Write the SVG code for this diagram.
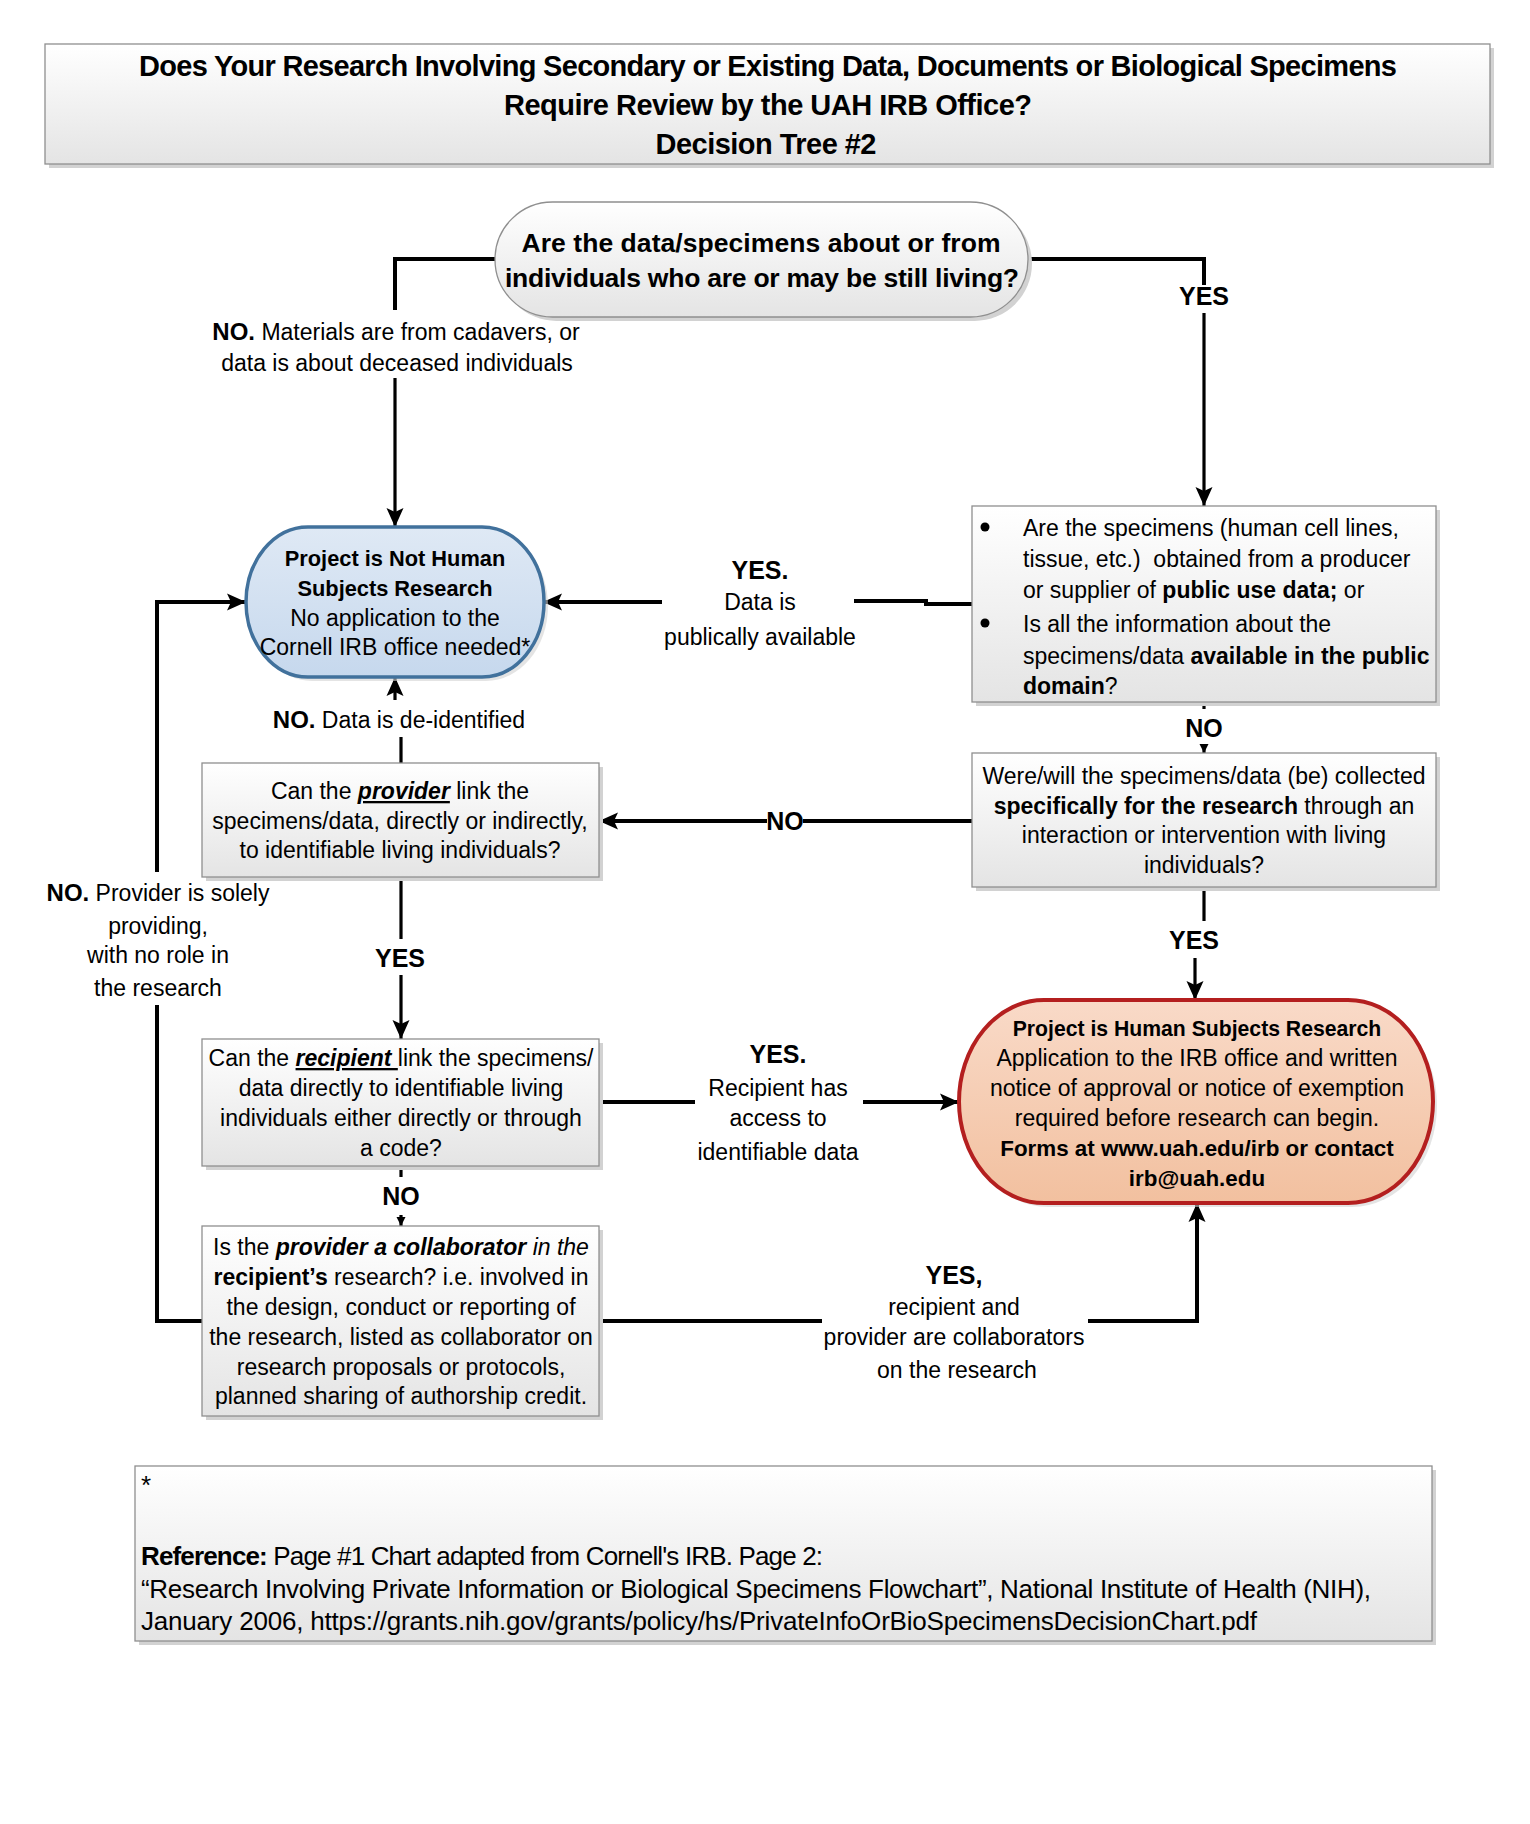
<svg xmlns="http://www.w3.org/2000/svg" width="1530" height="1824" viewBox="0 0 1530 1824">
<defs>
<linearGradient id="gGray" x1="0" y1="0" x2="0" y2="1"><stop offset="0" stop-color="#ffffff"/><stop offset="1" stop-color="#e4e4e4"/></linearGradient>
<linearGradient id="gBlue" x1="0" y1="0" x2="0" y2="1"><stop offset="0" stop-color="#dfe9f5"/><stop offset="1" stop-color="#c6d8ed"/></linearGradient>
<linearGradient id="gPeach" x1="0" y1="0" x2="0" y2="1"><stop offset="0" stop-color="#f9dac8"/><stop offset="1" stop-color="#f2c09f"/></linearGradient>
<marker id="arr" markerUnits="userSpaceOnUse" markerWidth="20" markerHeight="20" viewBox="0 0 20 20" refX="19" refY="10" orient="auto"><path d="M0,1.5 L19,10 L0,18.5 L4,10 z" fill="#000"/></marker>
<marker id="arrs" markerUnits="userSpaceOnUse" markerWidth="10" markerHeight="10" viewBox="0 0 10 10" refX="9" refY="5" orient="auto"><path d="M0,0.5 L9,5 L0,9.5 z" fill="#000"/></marker>
</defs>
<style>
text{font-family:"Liberation Sans",Arial,sans-serif;fill:#000;font-size:23px}
.c{text-anchor:middle}
.b{font-weight:bold}
.i{font-style:italic}
.u{text-decoration:underline}
.lbl{font-weight:bold;font-size:25px}
.no{font-weight:bold;font-size:24px}
.shadow{fill:#d2d2d2}
.box{fill:url(#gGray);stroke:#8f8f8f;stroke-width:1.3}
.ln{fill:none;stroke:#000;stroke-width:4}
.ln3{fill:none;stroke:#000;stroke-width:3.2}
.ttl{font-weight:bold;font-size:29px;text-anchor:middle}
.dq{font-weight:bold;font-size:26.5px;text-anchor:middle}
.nh{font-weight:bold;font-size:21.8px}
.hs1{font-weight:bold;font-size:21.2px}
.hs2{font-weight:bold;font-size:22.4px}
.ft{font-size:26px}
</style>
<rect width="1530" height="1824" fill="#fff"/>

<g id="title">
<rect class="shadow" x="49" y="48" width="1445" height="120"/>
<rect class="box" x="45" y="44" width="1445" height="120" stroke="#9a9a9a"/>
<text class="ttl" x="768" y="76" textLength="1258" lengthAdjust="spacing">Does Your Research Involving Secondary or Existing Data, Documents or Biological Specimens</text>
<text class="ttl" x="768" y="115" textLength="528" lengthAdjust="spacing">Require Review by the UAH IRB Office?</text>
<text class="ttl" x="766" y="154" textLength="221" lengthAdjust="spacing">Decision Tree #2</text>
</g>

<g id="connectors">
<path class="ln" d="M495,259 H395 V310"/>
<path class="ln3" d="M395,378 V527" marker-end="url(#arr)"/>
<path class="ln" d="M1028,259 H1204 V285"/>
<path class="ln3" d="M1204,313 V506" marker-end="url(#arr)"/>
<path class="ln" d="M972,604 H926 V601 H854"/>
<path class="ln" d="M662,602 H543" marker-end="url(#arr)"/>
<path class="ln3" d="M1204,702 V709"/>
<path class="ln3" d="M1204,745 V753" marker-end="url(#arrs)"/>
<path class="ln" d="M972,821 H803"/>
<path class="ln" d="M767,821 H599" marker-end="url(#arr)"/>
<path class="ln3" d="M1204,887 V921"/>
<path class="ln3" d="M1195,958 V1000" marker-end="url(#arr)"/>
<path class="ln3" d="M401,763 V737"/>
<path class="ln3" d="M395,700 V677" marker-end="url(#arr)"/>
<path class="ln3" d="M401,877 V939"/>
<path class="ln3" d="M401,975 V1039" marker-end="url(#arr)"/>
<path class="ln" d="M599,1102 H695"/>
<path class="ln" d="M863,1102 H959" marker-end="url(#arr)"/>
<path class="ln3" d="M401,1166 V1177"/>
<path class="ln3" d="M401,1215 V1226" marker-end="url(#arrs)"/>
<path class="ln" d="M599,1321 H822"/>
<path class="ln" d="M1088,1321 H1197 V1203" marker-end="url(#arr)"/>
<path class="ln" d="M202,1321 H157 V1005"/>
<path class="ln" d="M157,872 V602 H246" marker-end="url(#arr)"/>
</g>

<g id="connector-labels">
<text class="c" x="396" y="340"><tspan class="no">NO.</tspan> Materials are from cadavers, or</text>
<text class="c" x="397" y="371">data is about deceased individuals</text>
<text class="c lbl" x="1204" y="305">YES</text>
<text class="c lbl" x="760" y="579">YES.</text>
<text class="c" x="760" y="610">Data is</text>
<text class="c" x="760" y="645">publically available</text>
<text class="c lbl" x="1204" y="737">NO</text>
<text class="c lbl" x="785" y="830">NO</text>
<text class="c lbl" x="1194" y="949">YES</text>
<text class="c" x="399" y="728"><tspan class="no">NO.</tspan> Data is de-identified</text>
<text class="c lbl" x="400" y="967">YES</text>
<text class="c lbl" x="778" y="1063">YES.</text>
<text class="c" x="778" y="1096">Recipient has</text>
<text class="c" x="778" y="1126">access to</text>
<text class="c" x="778" y="1160">identifiable data</text>
<text class="c lbl" x="401" y="1205">NO</text>
<text class="c lbl" x="954" y="1284">YES,</text>
<text class="c" x="954" y="1315">recipient and</text>
<text class="c" x="954" y="1345">provider are collaborators</text>
<text class="c" x="957" y="1378">on the research</text>
<text class="c" x="158" y="901"><tspan class="no">NO.</tspan> Provider is solely</text>
<text class="c" x="158" y="934">providing,</text>
<text class="c" x="158" y="963">with no role in</text>
<text class="c" x="158" y="996">the research</text>
</g>

<g id="q-living">
<rect class="shadow" x="499" y="206" width="533" height="115" rx="57.5"/>
<rect class="box" x="495" y="202" width="533" height="115" rx="57.5" stroke="#7f7f7f"/>
<text class="dq" x="761" y="252" textLength="479" lengthAdjust="spacing">Are the data/specimens about or from</text>
<text class="dq" x="762" y="287" textLength="514" lengthAdjust="spacing">individuals who are or may be still living?</text>
</g>

<g id="not-human">
<rect class="shadow" x="250" y="531" width="298" height="150" rx="62" ry="75" opacity="0.6"/>
<rect x="246" y="527" width="298" height="150" rx="62" ry="75" fill="url(#gBlue)" stroke="#41719c" stroke-width="3.5"/>
<text class="c nh" x="395" y="566">Project is Not Human</text>
<text class="c nh" x="395" y="596">Subjects Research</text>
<text class="c" x="395" y="626">No application to the</text>
<text class="c" x="395" y="655">Cornell IRB office needed*</text>
</g>

<g id="q-public">
<rect class="shadow" x="976" y="510" width="464" height="196"/>
<rect class="box" x="972" y="506" width="464" height="196"/>
<circle cx="985" cy="527" r="4.5" fill="#000"/>
<circle cx="985" cy="623" r="4.5" fill="#000"/>
<text x="1023" y="536">Are the specimens (human cell lines,</text>
<text x="1023" y="567" xml:space="preserve">tissue, etc.)  obtained from a producer</text>
<text x="1023" y="598">or supplier of <tspan class="b">public use data;</tspan> or</text>
<text x="1023" y="632">Is all the information about the</text>
<text x="1023" y="664">specimens/data <tspan class="b">available in the public</tspan></text>
<text x="1023" y="694"><tspan class="b">domain</tspan>?</text>
</g>

<g id="q-collected">
<rect class="shadow" x="976" y="757" width="464" height="134"/>
<rect class="box" x="972" y="753" width="464" height="134"/>
<text class="c" x="1204" y="784">Were/will the specimens/data (be) collected</text>
<text class="c" x="1204" y="814"><tspan class="b">specifically for the research</tspan> through an</text>
<text class="c" x="1204" y="843">interaction or intervention with living</text>
<text class="c" x="1204" y="873">individuals?</text>
</g>

<g id="q-provider">
<rect class="shadow" x="206" y="767" width="397" height="114"/>
<rect class="box" x="202" y="763" width="397" height="114"/>
<text class="c" x="400" y="799">Can the <tspan class="b i u">provider</tspan> link the</text>
<text class="c" x="400" y="829">specimens/data, directly or indirectly,</text>
<text class="c" x="400" y="858">to identifiable living individuals?</text>
</g>

<g id="q-recipient">
<rect class="shadow" x="206" y="1043" width="397" height="127"/>
<rect class="box" x="202" y="1039" width="397" height="127"/>
<text class="c" x="401" y="1066" xml:space="preserve">Can the <tspan class="b i u">recipient </tspan>link the specimens/</text>
<text class="c" x="401" y="1096">data directly to identifiable living</text>
<text class="c" x="401" y="1126">individuals either directly or through</text>
<text class="c" x="401" y="1156">a code?</text>
</g>

<g id="q-collaborator">
<rect class="shadow" x="206" y="1230" width="397" height="190"/>
<rect class="box" x="202" y="1226" width="397" height="190"/>
<text class="c" x="401" y="1255">Is the <tspan class="b i">provider a collaborator</tspan> <tspan class="i">in the</tspan></text>
<text class="c" x="401" y="1285"><tspan class="b">recipient’s</tspan> research? i.e. involved in</text>
<text class="c" x="401" y="1315">the design, conduct or reporting of</text>
<text class="c" x="401" y="1345">the research, listed as collaborator on</text>
<text class="c" x="401" y="1375">research proposals or protocols,</text>
<text class="c" x="401" y="1404">planned sharing of authorship credit.</text>
</g>

<g id="human">
<rect class="shadow" x="963" y="1004" width="474" height="203" rx="85" ry="101.5" opacity="0.6"/>
<rect x="959" y="1000" width="474" height="203" rx="85" ry="101.5" fill="url(#gPeach)" stroke="#b41f1f" stroke-width="4"/>
<text class="c hs1" x="1197" y="1036">Project is Human Subjects Research</text>
<text class="c" x="1197" y="1066">Application to the IRB office and written</text>
<text class="c" x="1197" y="1096">notice of approval or notice of exemption</text>
<text class="c" x="1197" y="1126">required before research can begin.</text>
<text class="c hs2" x="1197" y="1156">Forms at www.uah.edu/irb or contact</text>
<text class="c hs2" x="1197" y="1186">irb@uah.edu</text>
</g>

<g id="footnote">
<rect class="shadow" x="139" y="1470" width="1297" height="175"/>
<rect class="box" x="135" y="1466" width="1297" height="175" stroke="#9a9a9a"/>
<text class="ft" x="141" y="1494">*</text>
<text class="ft" x="141" y="1565" textLength="682" lengthAdjust="spacing"><tspan class="b">Reference:</tspan> Page #1 Chart adapted from Cornell's IRB. Page 2:</text>
<text class="ft" x="141" y="1598" textLength="1230" lengthAdjust="spacing">“Research Involving Private Information or Biological Specimens Flowchart”, National Institute of Health (NIH),</text>
<text class="ft" x="141" y="1630" textLength="1116" lengthAdjust="spacing">January 2006, https://grants.nih.gov/grants/policy/hs/PrivateInfoOrBioSpecimensDecisionChart.pdf</text>
</g>
</svg>
